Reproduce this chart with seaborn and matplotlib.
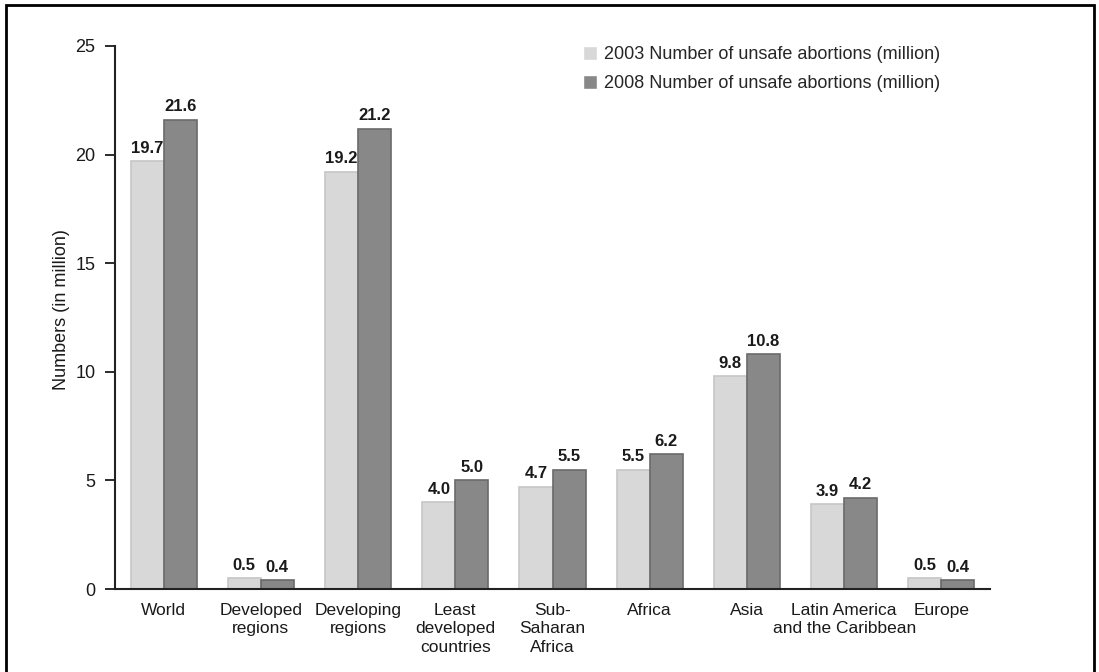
import pandas as pd
import matplotlib.pyplot as plt
import seaborn as sns
from matplotlib.patches import Rectangle

regions = ['World', 'Developed\nregions', 'Developing\nregions', 'Least\ndeveloped\ncountries',
           'Sub-\nSaharan\nAfrica', 'Africa', 'Asia', 'Latin America\nand the Caribbean', 'Europe']
vals_2003 = [19.7, 0.5, 19.2, 4.0, 4.7, 5.5, 9.8, 3.9, 0.5]
vals_2008 = [21.6, 0.4, 21.2, 5.0, 5.5, 6.2, 10.8, 4.2, 0.4]
series = ['2003 Number of unsafe abortions (million)', '2008 Number of unsafe abortions (million)']

df = pd.DataFrame({
    'region': regions * 2,
    'value': vals_2003 + vals_2008,
    'year': [series[0]] * len(regions) + [series[1]] * len(regions),
})

sns.set_style('white')
plt.rcParams['font.family'] = ['Liberation Sans', 'DejaVu Sans']

light, dark = '#d8d8d8', '#888888'
edges = ['#c6c6c6', '#6a6a6a']
txt = '#1a1a1a'

fig = plt.figure(figsize=(10.99, 6.72), dpi=100)
ax = fig.add_axes([115 / 1099, 1 - 589 / 672, (990 - 115) / 1099, (589 - 46) / 672])

sns.barplot(data=df, x='region', y='value', hue='year', palette=[light, dark],
            width=0.68, ax=ax, saturation=1)

for cont, ec in zip(ax.containers, edges):
    for p in cont:
        p.set_edgecolor(ec)
        p.set_linewidth(1.2)
    ax.bar_label(cont, fmt='%.1f', padding=4, fontsize=12, fontweight='bold', color=txt)

ax.set_xlim(-0.5, 8.5)
ax.set_ylim(0, 25)
ax.set_yticks([0, 5, 10, 15, 20, 25])
ax.set_xlabel('')
ax.set_ylabel('Numbers (in million)', fontsize=13, color=txt)
ax.yaxis.set_label_coords(-0.052, 0.514)
sns.despine(ax=ax)
for s in ['left', 'bottom']:
    ax.spines[s].set_linewidth(1.5)
    ax.spines[s].set_color('#222222')
ax.tick_params(axis='y', length=7, width=1.3, labelsize=13, pad=7, left=True, colors=txt)
ax.tick_params(axis='x', length=0, labelsize=12.5, pad=10, colors=txt)
for lab in ax.get_xticklabels():
    lab.set_linespacing(1.3)

handles, labels = ax.get_legend_handles_labels()
ax.legend(handles, labels, loc='upper left', bbox_to_anchor=((583 - 115) / 875, 1.0),
          frameon=False, borderaxespad=0, borderpad=0,
          fontsize=13, handlelength=0.8, handleheight=0.8, handletextpad=0.35, labelspacing=0.65)

fig.add_artist(Rectangle((6 / 1099, -0.05), (1094 - 6) / 1099, 1.05 - 5 / 672,
                         transform=fig.transFigure, fill=False, lw=2, color='black'))

plt.savefig('out.png', dpi=100)
